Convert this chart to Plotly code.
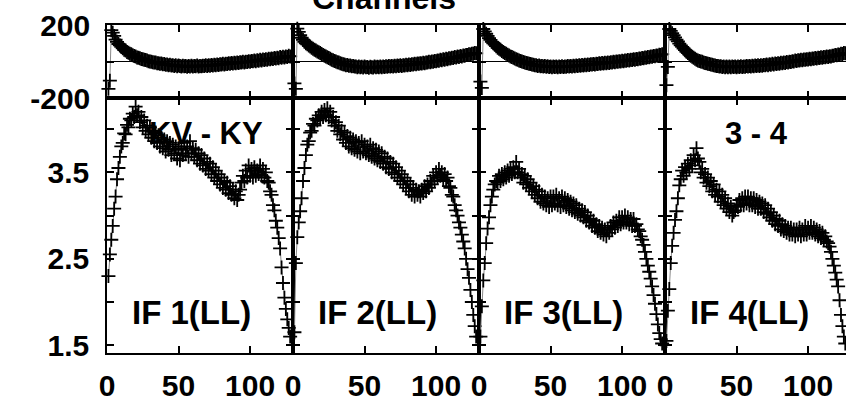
import plotly.graph_objects as go

# ---------------- data ----------------
channels = list(range(1, 129))

amp_if1 = [
    2.30, 2.55, 2.72, 2.88, 3.08, 3.22, 3.42, 3.55, 3.68, 3.80,
    3.84, 3.95, 3.94, 4.05, 4.02, 4.12, 4.10, 4.18, 4.14, 4.26,
    4.16, 4.20, 4.08, 4.14, 4.02, 4.10, 3.98, 4.04, 3.94, 4.02,
    3.90, 3.98, 3.86, 3.96, 3.84, 3.93, 3.80, 3.90, 3.78, 3.88,
    3.74, 3.86, 3.76, 3.84, 3.70, 3.82, 3.72, 3.80, 3.66, 3.78,
    3.64, 3.76, 3.70, 3.84, 3.72, 3.80, 3.68, 3.86, 3.72, 3.78,
    3.68, 3.76, 3.64, 3.72, 3.60, 3.70, 3.58, 3.66, 3.54, 3.62,
    3.52, 3.60, 3.48, 3.56, 3.44, 3.52, 3.40, 3.48, 3.36, 3.44,
    3.32, 3.40, 3.30, 3.38, 3.26, 3.34, 3.24, 3.30, 3.20, 3.28,
    3.18, 3.24, 3.30, 3.38, 3.46, 3.40, 3.52, 3.44, 3.58, 3.46,
    3.54, 3.44, 3.56, 3.46, 3.52, 3.48, 3.58, 3.46, 3.54, 3.44,
    3.50, 3.40, 3.38, 3.28, 3.24, 3.12, 3.06, 2.94, 2.86, 2.74,
    2.62, 2.40, 2.22, 2.05, 1.92, 1.80, 1.70, 1.60,
]
amp_if2 = [
    1.65, 2.45, 2.75, 2.92, 3.05, 3.20, 3.40, 3.55, 3.70, 3.82,
    3.86, 3.96, 3.98, 4.06, 4.04, 4.12, 4.10, 4.16, 4.12, 4.20,
    4.14, 4.22, 4.16, 4.24, 4.14, 4.20, 4.10, 4.14, 4.04, 4.08,
    3.98, 4.04, 3.94, 3.98, 3.88, 3.96, 3.84, 3.92, 3.80, 3.90,
    3.78, 3.88, 3.76, 3.86, 3.74, 3.84, 3.72, 3.86, 3.74, 3.82,
    3.72, 3.80, 3.70, 3.82, 3.68, 3.78, 3.66, 3.76, 3.64, 3.74,
    3.62, 3.72, 3.60, 3.68, 3.56, 3.66, 3.54, 3.62, 3.50, 3.60,
    3.48, 3.56, 3.44, 3.52, 3.40, 3.48, 3.36, 3.44, 3.32, 3.40,
    3.28, 3.36, 3.24, 3.32, 3.22, 3.30, 3.24, 3.28, 3.22, 3.30,
    3.26, 3.34, 3.28, 3.36, 3.32, 3.40, 3.36, 3.46, 3.40, 3.50,
    3.44, 3.54, 3.46, 3.50, 3.42, 3.48, 3.40, 3.44, 3.34, 3.32,
    3.24, 3.22, 3.12, 3.06, 3.00, 2.92, 2.86, 2.78, 2.70, 2.62,
    2.50, 2.38, 2.28, 2.14, 2.00, 1.85, 1.72, 1.60,
]
amp_if3 = [
    1.60, 1.95, 2.25, 2.45, 2.68, 2.85, 2.98, 3.12, 3.22, 3.30,
    3.36, 3.40, 3.38, 3.46, 3.40, 3.48, 3.42, 3.50, 3.44, 3.52,
    3.46, 3.54, 3.48, 3.56, 3.50, 3.62, 3.50, 3.54, 3.44, 3.48,
    3.38, 3.46, 3.36, 3.42, 3.32, 3.38, 3.28, 3.34, 3.24, 3.30,
    3.20, 3.28, 3.16, 3.24, 3.14, 3.22, 3.12, 3.20, 3.10, 3.22,
    3.12, 3.22, 3.14, 3.24, 3.12, 3.20, 3.10, 3.22, 3.12, 3.20,
    3.10, 3.18, 3.08, 3.16, 3.06, 3.14, 3.04, 3.12, 3.02, 3.08,
    3.00, 3.06, 2.98, 3.04, 2.94, 3.00, 2.92, 2.96, 2.88, 2.94,
    2.86, 2.90, 2.82, 2.88, 2.80, 2.86, 2.78, 2.84, 2.76, 2.84,
    2.80, 2.88, 2.84, 2.92, 2.86, 2.94, 2.88, 2.98, 2.90, 2.98,
    2.92, 3.00, 2.92, 2.98, 2.90, 2.96, 2.88, 2.96, 2.88, 2.90,
    2.84, 2.82, 2.76, 2.72, 2.66, 2.58, 2.50, 2.42, 2.35, 2.27,
    2.18, 2.08, 1.98, 1.86, 1.74, 1.64, 1.57, 1.52,
]
amp_if4 = [
    1.55, 1.90, 2.15, 2.45, 2.65, 2.80, 2.95, 3.05, 3.20, 3.35,
    3.42, 3.52, 3.46, 3.56, 3.50, 3.60, 3.54, 3.64, 3.58, 3.70,
    3.64, 3.78, 3.66, 3.62, 3.50, 3.54, 3.44, 3.48, 3.38, 3.44,
    3.34, 3.40, 3.28, 3.36, 3.24, 3.30, 3.22, 3.28, 3.16, 3.24,
    3.12, 3.20, 3.08, 3.14, 3.04, 3.10, 3.00, 3.04, 3.06, 3.12,
    3.10, 3.18, 3.12, 3.20, 3.12, 3.22, 3.14, 3.22, 3.12, 3.20,
    3.12, 3.20, 3.10, 3.18, 3.08, 3.16, 3.08, 3.14, 3.04, 3.12,
    3.02, 3.08, 2.98, 3.04, 2.94, 3.00, 2.90, 2.96, 2.88, 2.94,
    2.84, 2.90, 2.82, 2.88, 2.80, 2.86, 2.78, 2.86, 2.78, 2.84,
    2.76, 2.84, 2.78, 2.86, 2.76, 2.84, 2.78, 2.88, 2.78, 2.86,
    2.80, 2.88, 2.80, 2.86, 2.78, 2.84, 2.76, 2.82, 2.74, 2.80,
    2.72, 2.76, 2.70, 2.68, 2.64, 2.58, 2.50, 2.42, 2.34, 2.26,
    2.18, 2.02, 1.85, 1.72, 1.60, 1.52, 1.46, 1.42,
]

phase_if1 = [
    -150, -105, 172, 158, 140, 120, 108, 96, 88, 80,
    72, 65, 60, 52, 48, 42, 40, 34, 30, 28,
    22, 20, 18, 14, 12, 10, 8, 5, 2, 0,
    -2, -4, -6, -5, -9, -10, -12, -11, -15, -14,
    -18, -16, -20, -18, -22, -20, -24, -21, -26, -22,
    -25, -28, -23, -26, -24, -29, -25, -27, -23, -28,
    -25, -26, -22, -27, -24, -26, -23, -25, -21, -24,
    -20, -23, -19, -22, -18, -20, -16, -19, -15, -17,
    -13, -16, -12, -14, -10, -12, -8, -11, -7, -9,
    -5, -8, -4, -6, -2, -5, -1, -3, 1, -2,
    3, 1, 5, 2, 7, 4, 9, 6, 11, 8,
    13, 10, 15, 12, 17, 14, 19, 16, 21, 18,
    24, 20, 26, 22, 28, 25, 31, 28,
]
phase_if2 = [
    -120, -150, 180, 162, 145, 130, 118, 108, 100, 94,
    88, 82, 76, 70, 64, 60, 55, 50, 46, 41,
    36, 32, 27, 23, 19, 15, 10, 7, 3, 0,
    -4, -6, -10, -12, -15, -16, -20, -19, -23, -22,
    -26, -25, -28, -27, -31, -28, -32, -29, -33, -28,
    -32, -30, -34, -29, -31, -33, -28, -32, -29, -31,
    -28, -32, -27, -30, -26, -29, -25, -28, -24, -27,
    -23, -26, -22, -25, -21, -24, -20, -22, -18, -21,
    -17, -19, -15, -17, -13, -15, -11, -13, -9, -11,
    -7, -9, -5, -6, -2, -4, 0, -1, 3, 2,
    6, 4, 9, 7, 12, 10, 15, 13, 18, 16,
    21, 19, 24, 22, 27, 25, 30, 28, 33, 31,
    36, 35, 40, 38, 43, 42, 47, 45,
]
phase_if3 = [
    -110, -145, 178, 165, 152, 140, 128, 118, 108, 100,
    92, 84, 76, 70, 64, 58, 52, 47, 42, 37,
    33, 28, 24, 20, 16, 13, 9, 6, 3, 0,
    -3, -5, -8, -10, -13, -14, -17, -18, -21, -20,
    -24, -22, -26, -24, -28, -25, -29, -26, -30, -27,
    -31, -27, -30, -28, -32, -27, -30, -26, -30, -27,
    -29, -25, -28, -24, -27, -23, -26, -22, -25, -21,
    -23, -19, -22, -18, -20, -16, -19, -15, -17, -14,
    -16, -12, -14, -10, -12, -8, -11, -7, -9, -5,
    -8, -4, -6, -2, -4, 0, -2, 2, 0, 4,
    2, 6, 4, 8, 6, 10, 8, 12, 10, 14,
    13, 17, 15, 19, 18, 22, 20, 24, 23, 27,
    26, 30, 29, 33, 32, 37, 36, 40,
]
phase_if4 = [
    -130, -30, 178, 168, 155, 145, 132, 120, 110, 98,
    88, 80, 70, 62, 54, 47, 40, 32, 26, 20,
    15, 10, 6, 3, 0, -2, -5, -8, -10, -13,
    -14, -17, -18, -21, -22, -25, -24, -28, -26, -30,
    -27, -31, -28, -32, -28, -31, -27, -30, -28, -32,
    -27, -30, -26, -30, -27, -29, -25, -28, -24, -27,
    -23, -26, -22, -25, -21, -24, -20, -23, -19, -21,
    -17, -20, -15, -18, -13, -16, -11, -14, -9, -12,
    -7, -10, -5, -8, -3, -5, -1, -3, 2, 0,
    5, 3, 7, 5, 9, 7, 11, 9, 13, 11,
    15, 13, 17, 15, 19, 17, 21, 19, 23, 21,
    25, 23, 27, 25, 29, 28, 32, 31, 35, 34,
    38, 37, 42, 41, 46, 45, 50, 49,
]

amp_series = [amp_if1, amp_if2, amp_if3, amp_if4]
phase_series = [phase_if1, phase_if2, phase_if3, phase_if4]
if_labels = ["IF 1(LL)", "IF 2(LL)", "IF 3(LL)", "IF 4(LL)"]
baseline_labels = ["KV - KY", "", "", "3 - 4"]
title_text = "Channels"

x_tickvals = [0, 50, 100]
amp_tickvals = [1.5, 2.0, 2.5, 3.0, 3.5, 4.0]
amp_ticktext = ["1.5", "", "2.5", "", "3.5", ""]
phase_tickvals = [-200, 0, 200]
phase_ticktext = ["-200", "", "200"]

# ---------------- layout geometry ----------------
W, H = 846, 403
L, R, T, B = 107, 0, 25, 50
plot_w = W - L - R
plot_h = H - T - B
panel_px = 186
split = (353 - 98) / plot_h
x_span = 130.0
amp_range = [1.41, 4.36]
phase_range = [-200, 200]

FONT = "Arial, 'Liberation Sans', sans-serif"
tick_font = dict(family=FONT, size=30, color="black", weight="bold")

fig = go.Figure()

layout = dict(
    width=W, height=H,
    margin=dict(l=L, r=R, t=T, b=B, pad=0),
    paper_bgcolor="white", plot_bgcolor="white",
    showlegend=False,
    font=dict(family=FONT, color="black"),
)

common_axis = dict(
    showline=True, linecolor="black", linewidth=1.5,
    ticks="inside", ticklen=7, tickwidth=1.5, tickcolor="black",
    showgrid=False, tickfont=tick_font,
)

annotations = []

for i in range(4):
    x0 = i * panel_px / plot_w
    x1 = min((i + 1) * panel_px / plot_w, 1.0)
    xmax = x_span if i < 3 else x_span * (plot_w - 3 * panel_px) / panel_px
    last = (i == 3)

    p_idx = i + 1          # phase axes 1..4
    a_idx = i + 5          # amplitude axes 5..8
    pxn = "xaxis" if p_idx == 1 else f"xaxis{p_idx}"
    pyn = "yaxis" if p_idx == 1 else f"yaxis{p_idx}"
    pxr = "x" if p_idx == 1 else f"x{p_idx}"
    pyr = "y" if p_idx == 1 else f"y{p_idx}"
    axn = f"xaxis{a_idx}"
    ayn = f"yaxis{a_idx}"
    axr = f"x{a_idx}"
    ayr = f"y{a_idx}"

    # phase panel
    layout[pxn] = dict(common_axis, domain=[x0, x1], range=[0, xmax],
                       anchor=pyr, tickvals=x_tickvals, showticklabels=False,
                       zeroline=False, mirror="ticks")
    layout[pyn] = dict(common_axis, domain=[split, 1.0], range=phase_range,
                       anchor=pxr, tickvals=phase_tickvals, ticktext=phase_ticktext,
                       showticklabels=(i == 0), ticklabelstandoff=9,
                       zeroline=True, zerolinecolor="black", zerolinewidth=1,
                       mirror=(False if last else "ticks"))
    # amplitude panel
    layout[axn] = dict(common_axis, domain=[x0, x1], range=[0, xmax],
                       anchor=ayr, tickvals=x_tickvals, showticklabels=True,
                       ticklabelstandoff=5, zeroline=False, mirror="ticks")
    layout[ayn] = dict(common_axis, domain=[0, split], range=amp_range,
                       anchor=axr, tickvals=amp_tickvals, ticktext=amp_ticktext,
                       showticklabels=(i == 0), ticklabelstandoff=10,
                       zeroline=False, mirror=(False if last else "ticks"))

    style = dict(mode="lines+markers",
                 line=dict(color="#8a8a8a", width=1),
                 marker=dict(symbol="cross-thin", size=10,
                             line=dict(width=1.8, color="black")),
                 cliponaxis=False, hoverinfo="skip")

    fig.add_trace(go.Scatter(x=channels, y=phase_series[i], xaxis=pxr, yaxis=pyr, **style))
    fig.add_trace(go.Scatter(x=channels, y=amp_series[i], xaxis=axr, yaxis=ayr, **style))

    annotations.append(dict(text=if_labels[i], xref=axr, yref=ayr, x=59, y=1.88,
                            xanchor="center", yanchor="middle", showarrow=False,
                            font=dict(family=FONT, size=33, color="black", weight="bold")))
    if baseline_labels[i]:
        annotations.append(dict(text=baseline_labels[i], xref=axr, yref=ayr,
                                x=(69 if i == 0 else 64), y=3.95,
                                xanchor="center", yanchor="middle", showarrow=False,
                                font=dict(family=FONT, size=31, color="black", weight="bold")))

annotations.append(dict(text=title_text, xref="paper", yref="paper",
                        x=(384 - L) / plot_w, y=(353 - 18) / plot_h,
                        xanchor="center", yanchor="bottom", showarrow=False,
                        font=dict(family=FONT, size=32, color="black", weight="bold")))

layout["annotations"] = annotations
fig.update_layout(**layout)
fig.write_html("out.html")
